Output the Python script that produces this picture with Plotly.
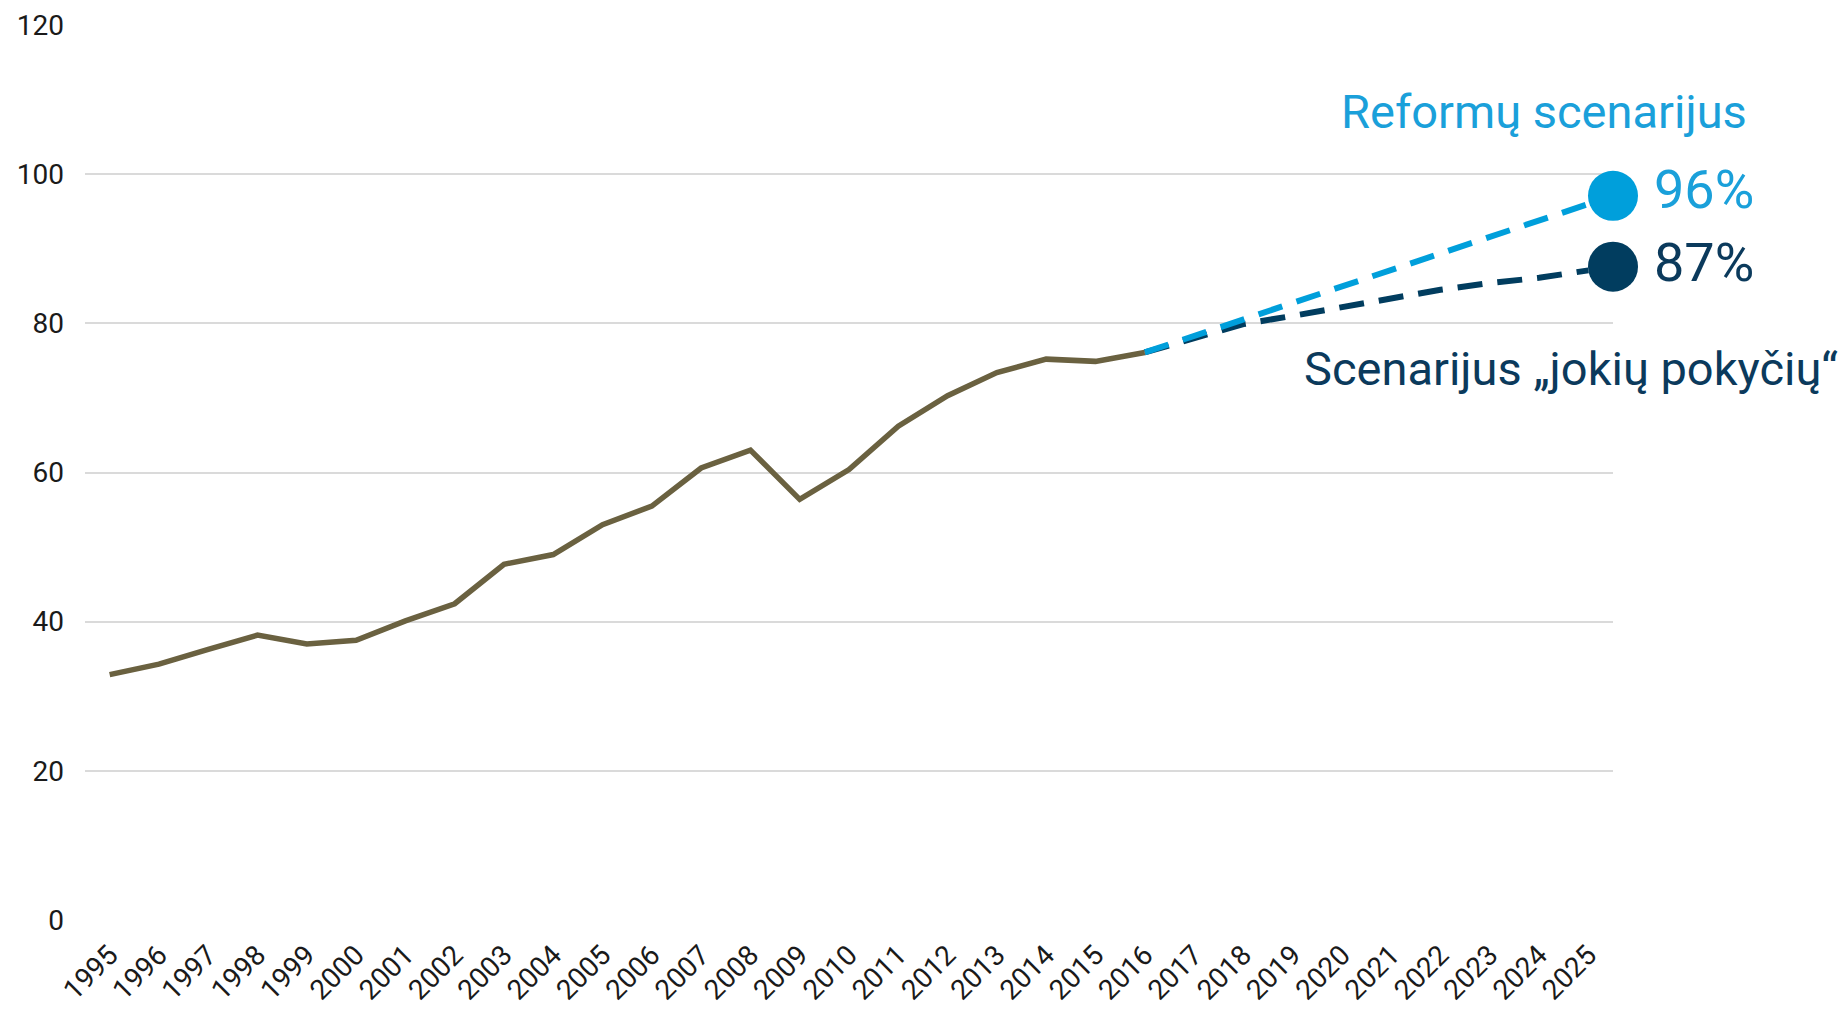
import plotly.graph_objects as go

# ---- data ----
x_labels = ["1995", "1996", "1997", "1998", "1999", "2000", "2001", "2002", "2003", "2004",
            "2005", "2006", "2007", "2008", "2009", "2010", "2011", "2012", "2013", "2014",
            "2015", "2016", "2017", "2018", "2019", "2020", "2021", "2022", "2023", "2024", "2025"]

hist_years = [1995, 1996, 1997, 1998, 1999, 2000, 2001, 2002, 2003, 2004, 2005,
              2006, 2007, 2008, 2009, 2010, 2011, 2012, 2013, 2014, 2015, 2016]
hist_values = [32.9, 34.3, 36.3, 38.2, 37.0, 37.5, 40.1, 42.4, 47.7, 49.0, 53.0,
               55.5, 60.6, 63.0, 56.4, 60.4, 66.2, 70.3, 73.4, 75.2, 74.9, 76.1]

proj_years = [2016, 2017, 2018, 2019, 2020, 2021, 2022, 2023, 2024, 2025]
reform_values = [76.1, 78.3, 80.5, 82.7, 84.9, 87.2, 89.4, 91.6, 93.8, 96.0]
nochange_values = [76.1, 78.1, 79.9, 81.0, 82.2, 83.4, 84.5, 85.4, 86.1, 87.1]

reform_label = "Reformų scenarijus"
nochange_label = "Scenarijus „jokių pokyčių“"
reform_end_text = "96%"
nochange_end_text = "87%"

y_ticks = [0, 20, 40, 60, 80, 100, 120]

# ---- styles ----
OLIVE = "#6a6140"
BLUE = "#009fdb"
NAVY = "#013d5f"
GRID = "#dadada"
FONT = "Roboto"

x_min = int(x_labels[0]) - 0.5
x_max = int(x_labels[-1]) + 0.5


def px(year):
    # convert a year position to paper coordinates (may exceed 1)
    return (year - x_min) / (x_max - x_min)


def py(val):
    return val / 120.0


def end_dot(years, values):
    # dot placed where the projection meets the right edge of the plot
    slope = values[-1] - values[-2]
    return [x_max], [values[-1] + (x_max - years[-1]) * slope]


fig = go.Figure()

dash_style = "25px,15px"
fig.add_trace(go.Scatter(x=proj_years, y=nochange_values, mode="lines",
                         line=dict(color=NAVY, width=6, dash=dash_style),
                         hoverinfo="skip"))
fig.add_trace(go.Scatter(x=proj_years, y=reform_values, mode="lines",
                         line=dict(color=BLUE, width=6, dash=dash_style),
                         hoverinfo="skip"))
fig.add_trace(go.Scatter(x=hist_years, y=hist_values, mode="lines",
                         line=dict(color=OLIVE, width=5.5)))

for yrs, vals, col in [(proj_years, reform_values, BLUE), (proj_years, nochange_values, NAVY)]:
    dx, dy = end_dot(yrs, vals)
    fig.add_trace(go.Scatter(x=dx, y=dy, mode="markers", cliponaxis=False,
                             marker=dict(color=col, size=50, line=dict(width=0))))

rb_x, rb_y = end_dot(proj_years, reform_values)
nb_x, nb_y = end_dot(proj_years, nochange_values)

annotations = [
    dict(text=reform_label, x=px(2028.25), y=py(108.4), xref="paper", yref="paper",
         xanchor="right", yanchor="middle", showarrow=False,
         font=dict(family=FONT, size=47, color="#1aa0da")),
    dict(text=reform_end_text, x=px(2026.3), y=py(rb_y[0] + 0.9), xref="paper", yref="paper",
         xanchor="left", yanchor="middle", showarrow=False,
         font=dict(family=FONT, size=54, color="#1aa0da")),
    dict(text=nochange_end_text, x=px(2026.3), y=py(nb_y[0] + 0.6), xref="paper", yref="paper",
         xanchor="left", yanchor="middle", showarrow=False,
         font=dict(family=FONT, size=54, color="#0b3a5c")),
    dict(text=nochange_label, x=px(2019.2), y=py(74.0), xref="paper", yref="paper",
         xanchor="left", yanchor="middle", showarrow=False,
         font=dict(family=FONT, size=47, color="#0b3a5c")),
]

fig.update_layout(
    width=1840, height=1013,
    margin=dict(l=85, r=227, t=25, b=93, autoexpand=False),
    plot_bgcolor="white", paper_bgcolor="white",
    showlegend=False,
    annotations=annotations,
    font=dict(family=FONT, color="#1a1a1a"),
)
fig.update_xaxes(
    range=[x_min, x_max], tickmode="array",
    tickvals=[int(v) for v in x_labels], ticktext=x_labels,
    tickangle=-45, tickfont=dict(family=FONT, size=28, color="#1a1a1a"),
    showgrid=False, zeroline=False, showline=False, ticks="", ticklabelstandoff=12,
    automargin=False,
)
fig.update_yaxes(
    range=[0, 120], tickmode="array", tickvals=y_ticks,
    tickfont=dict(family=FONT, size=28, color="#1a1a1a"),
    showgrid=True, gridcolor=GRID, gridwidth=1.5,
    zeroline=False, showline=False, ticks="", ticklabelstandoff=20,
    automargin=False,
)

fig.write_html("out.html", config={"displayModeBar": False},
               post_script="document.body.style.margin='0';document.body.style.overflow='hidden';")
